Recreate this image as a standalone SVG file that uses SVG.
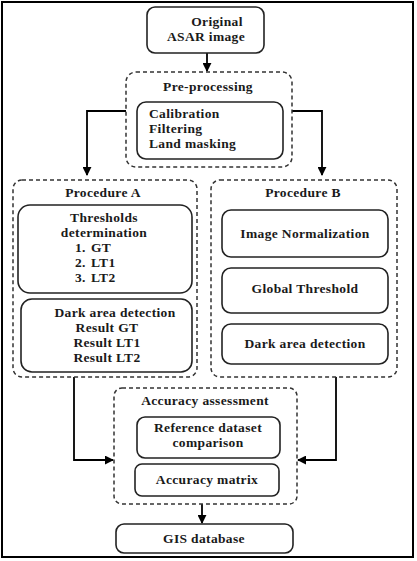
<svg xmlns="http://www.w3.org/2000/svg" width="417" height="561" viewBox="0 0 417 561">
<defs>
<marker id="ah" viewBox="0 0 10 10" refX="9" refY="5" markerWidth="5" markerHeight="5" orient="auto"><path d="M0,0 L10,5 L0,10 z" fill="#000"/></marker>
<style>
.t{font-family:"Liberation Serif","Times New Roman",serif;font-weight:bold;font-size:13.5px;letter-spacing:0.35px;fill:#1a1a1a}
.m{text-anchor:middle}
.box{fill:#fff;stroke:#222;stroke-width:1.6}
.grp{fill:none;stroke:#333;stroke-width:1.5;stroke-dasharray:4 3}
.c{fill:none;stroke:#000;stroke-width:1.8;marker-end:url(#ah)}
</style>
</defs>
<rect x="0" y="0" width="417" height="561" fill="#fff"/>
<rect x="2" y="2" width="411" height="555" fill="none" stroke="#000" stroke-width="2"/>
<g id="connectors">
<path class="c" d="M207,53 V71"/>
<path class="c" d="M126,111 H87 V175"/>
<path class="c" d="M292,111 H322 V175"/>
<path class="c" d="M74,377 V460 H113"/>
<path class="c" d="M336,377 V460 H298"/>
<path class="c" d="M202,504 V523"/>
</g>
<g id="original">
<rect class="box" x="147" y="7" width="117" height="46" rx="8"/>
<text class="t m" x="217" y="26">Original</text>
<text class="t m" x="206" y="41">ASAR image</text>
</g>
<g id="preprocessing">
<rect class="grp" x="126" y="72" width="166" height="95" rx="10"/>
<text class="t m" x="208" y="91">Pre-processing</text>
<rect class="box" x="137" y="102" width="146" height="57" rx="9"/>
<text class="t" x="149" y="118">Calibration</text>
<text class="t" x="149" y="133">Filtering</text>
<text class="t" x="149" y="148">Land masking</text>
</g>
<g id="procedureA">
<rect class="grp" x="13" y="180" width="184" height="197" rx="9"/>
<text class="t m" x="103" y="197">Procedure A</text>
<rect class="box" x="18" y="205" width="174" height="88" rx="12"/>
<text class="t m" x="104" y="222">Thresholds</text>
<text class="t m" x="104" y="237">determination</text>
<text class="t" x="75" y="252">1.</text><text class="t" x="91" y="252">GT</text>
<text class="t" x="75" y="267">2.</text><text class="t" x="91" y="267">LT1</text>
<text class="t" x="75" y="282">3.</text><text class="t" x="91" y="282">LT2</text>
<rect class="box" x="21" y="299" width="171" height="73" rx="11"/>
<text class="t m" x="115" y="317">Dark area detection</text>
<text class="t m" x="107" y="332">Result GT</text>
<text class="t m" x="107" y="347">Result LT1</text>
<text class="t m" x="107" y="362">Result LT2</text>
</g>
<g id="procedureB">
<rect class="grp" x="211" y="180" width="186" height="197" rx="9"/>
<text class="t m" x="303" y="197">Procedure B</text>
<rect class="box" x="222" y="210" width="166" height="47" rx="9"/>
<text class="t m" x="305" y="238">Image Normalization</text>
<rect class="box" x="222" y="268" width="166" height="45" rx="9"/>
<text class="t m" x="305" y="293">Global Threshold</text>
<rect class="box" x="222" y="324" width="166" height="40" rx="9"/>
<text class="t m" x="305" y="348">Dark area detection</text>
</g>
<g id="accuracy">
<rect class="grp" x="114" y="388" width="183" height="116" rx="8"/>
<text class="t m" x="205" y="405">Accuracy assessment</text>
<rect class="box" x="137" y="417" width="143" height="41" rx="8"/>
<text class="t m" x="208" y="432">Reference dataset</text>
<text class="t m" x="208" y="447">comparison</text>
<rect class="box" x="135" y="464" width="144" height="32" rx="7"/>
<text class="t m" x="207" y="484">Accuracy matrix</text>
</g>
<g id="gis">
<rect class="box" x="116" y="524" width="177" height="29" rx="8"/>
<text class="t m" x="204" y="543">GIS database</text>
</g>
</svg>
